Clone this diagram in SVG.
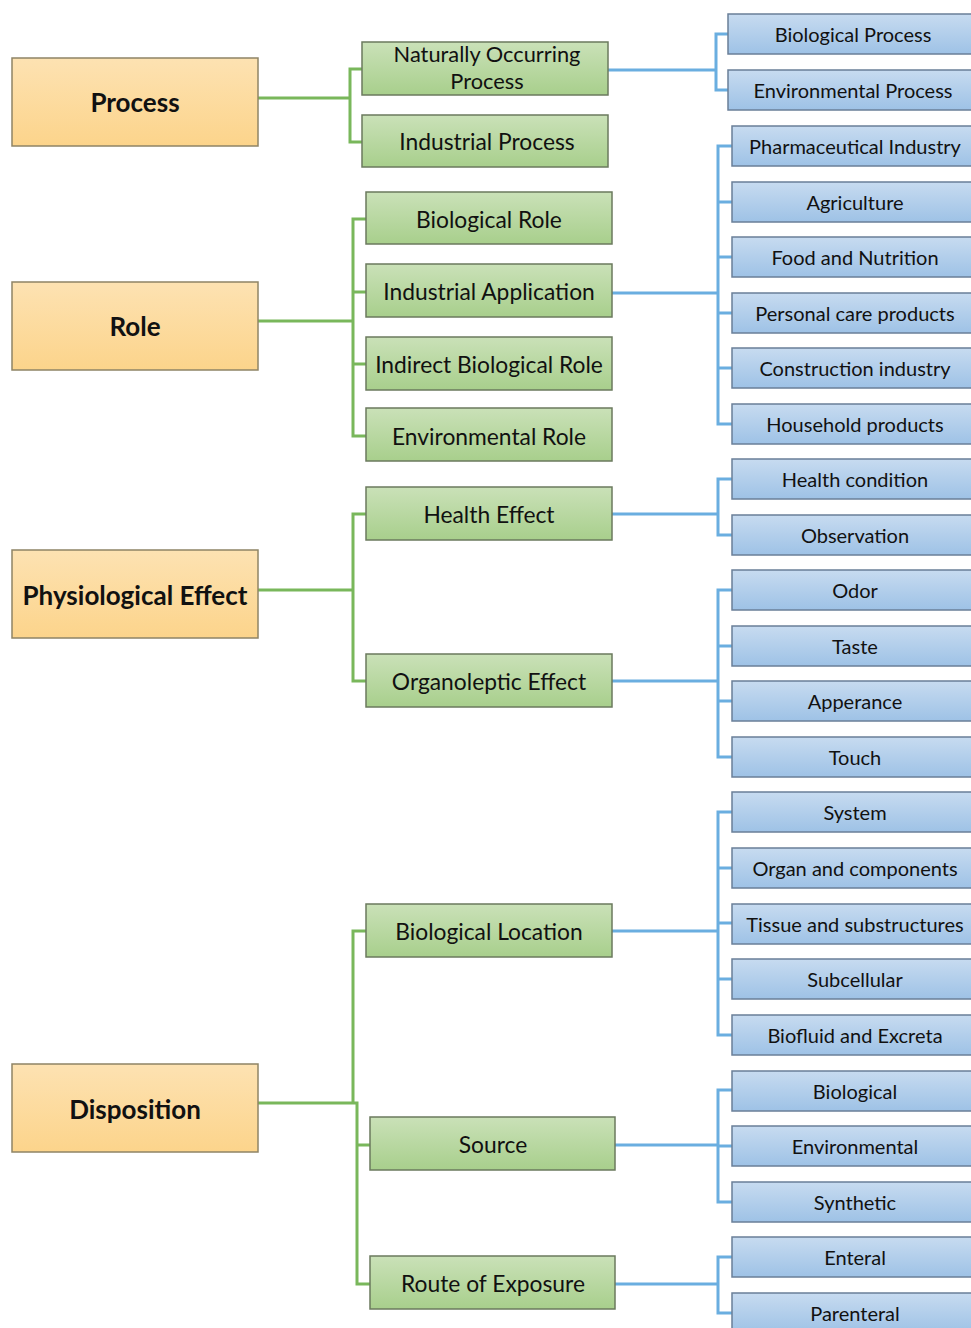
<svg xmlns="http://www.w3.org/2000/svg" width="971" height="1328" viewBox="0 0 971 1328">
<defs>
<linearGradient id="gO" x1="0" y1="0" x2="0" y2="1"><stop offset="0" stop-color="#fde2b2"/><stop offset="1" stop-color="#fcd48b"/></linearGradient>
<linearGradient id="gG" x1="0" y1="0" x2="0" y2="1"><stop offset="0" stop-color="#cae1b8"/><stop offset="1" stop-color="#a8cf8c"/></linearGradient>
<linearGradient id="gB" x1="0" y1="0" x2="0" y2="1"><stop offset="0" stop-color="#c7dbf0"/><stop offset="1" stop-color="#9ec2e6"/></linearGradient>
<style>
.o{fill:url(#gO);stroke:#8f8466;stroke-width:1.5}
.g{fill:url(#gG);stroke:#6b7a5e;stroke-width:1.5}
.b{fill:url(#gB);stroke:#6a7f98;stroke-width:1.5}
text{font-family:Lato,"Liberation Sans",sans-serif;fill:#111;text-anchor:middle}
.to{font-weight:bold;font-size:26px}
.tg{font-size:22.8px}
.tg2{font-size:21.8px}
.tb{font-size:20px}
.cg{fill:none;stroke:#79b75b;stroke-width:3}
.cb{fill:none;stroke:#6aaee0;stroke-width:3}
</style>
</defs>
<g id="connectors">
<path class="cg" d="M258,98H350M362,69H350V142H362"/>
<path class="cg" d="M258,321H353M366,219H353V436H366M353,292H366M353,364H366"/>
<path class="cg" d="M258,590H353M366,514H353V681H366"/>
<path class="cg" d="M366,931H353V1103M258,1103H357V1284H370M357,1145H370"/>
<path class="cb" d="M608,70H716M728,34H716V90H728"/>
<path class="cb" d="M612,293H718M732,146H718V424H732M718,202H732M718,257H732M718,313H732M718,368H732"/>
<path class="cb" d="M612,514H718M732,479H718V535H732"/>
<path class="cb" d="M612,681H718M732,590H718V757H732M718,646H732M718,701H732"/>
<path class="cb" d="M612,931H718M732,812H718V1035H732M718,868H732M718,923H732M718,979H732"/>
<path class="cb" d="M615,1145H718M732,1090H718V1202H732M718,1146H732"/>
<path class="cb" d="M615,1284H718M732,1257H718V1313H732"/>
</g>
<g id="n-process"><rect class="o" x="12" y="58" width="246" height="88"/><text class="to" x="135" y="112">Process</text></g>
<g id="n-role"><rect class="o" x="12" y="282" width="246" height="88"/><text class="to" x="135" y="336">Role</text></g>
<g id="n-physio"><rect class="o" x="12" y="550" width="246" height="88"/><text class="to" x="135" y="605">Physiological Effect</text></g>
<g id="n-disp"><rect class="o" x="12" y="1064" width="246" height="88"/><text class="to" x="135" y="1119">Disposition</text></g>

<g id="n-nop"><rect class="g" x="362" y="42" width="246" height="53"/><text class="tg2" x="487" y="62"><tspan x="487" y="62">Naturally Occurring</tspan><tspan x="487" y="88.5">Process</tspan></text></g>
<g id="n-ip"><rect class="g" x="362" y="115" width="246" height="52"/><text class="tg" x="487" y="150">Industrial Process</text></g>
<g id="n-biorole"><rect class="g" x="366" y="192" width="246" height="52"/><text class="tg" x="489" y="228">Biological Role</text></g>
<g id="n-indapp"><rect class="g" x="366" y="264" width="246" height="53"/><text class="tg" x="489" y="300">Industrial Application</text></g>
<g id="n-indbio"><rect class="g" x="366" y="337" width="246" height="53"/><text class="tg" x="489" y="373">Indirect Biological Role</text></g>
<g id="n-envrole"><rect class="g" x="366" y="408" width="246" height="53"/><text class="tg" x="489" y="445">Environmental Role</text></g>
<g id="n-health"><rect class="g" x="366" y="487" width="246" height="53"/><text class="tg" x="489" y="523">Health Effect</text></g>
<g id="n-organo"><rect class="g" x="366" y="654" width="246" height="53"/><text class="tg" x="489" y="690">Organoleptic Effect</text></g>
<g id="n-bioloc"><rect class="g" x="366" y="904" width="246" height="53"/><text class="tg" x="489" y="940">Biological Location</text></g>
<g id="n-source"><rect class="g" x="370" y="1117" width="245" height="53"/><text class="tg" x="493" y="1153">Source</text></g>
<g id="n-route"><rect class="g" x="370" y="1256" width="245" height="53"/><text class="tg" x="493" y="1292">Route of Exposure</text></g>

<g id="n-bp"><rect class="b" x="728" y="14" width="250" height="40"/><text class="tb" x="853" y="42">Biological Process</text></g>
<g id="n-ep"><rect class="b" x="728" y="70" width="250" height="40"/><text class="tb" x="853" y="98">Environmental Process</text></g>
<g id="n-pharma"><rect class="b" x="732" y="126" width="246" height="40"/><text class="tb" x="855" y="154">Pharmaceutical Industry</text></g>
<g id="n-agri"><rect class="b" x="732" y="182" width="246" height="40"/><text class="tb" x="855" y="210">Agriculture</text></g>
<g id="n-food"><rect class="b" x="732" y="237" width="246" height="40"/><text class="tb" x="855" y="265">Food and Nutrition</text></g>
<g id="n-personal"><rect class="b" x="732" y="293" width="246" height="40"/><text class="tb" x="855" y="321">Personal care products</text></g>
<g id="n-constr"><rect class="b" x="732" y="348" width="246" height="40"/><text class="tb" x="855" y="376">Construction industry</text></g>
<g id="n-house"><rect class="b" x="732" y="404" width="246" height="40"/><text class="tb" x="855" y="432">Household products</text></g>
<g id="n-hc"><rect class="b" x="732" y="459" width="246" height="40"/><text class="tb" x="855" y="487">Health condition</text></g>
<g id="n-obs"><rect class="b" x="732" y="515" width="246" height="40"/><text class="tb" x="855" y="543">Observation</text></g>
<g id="n-odor"><rect class="b" x="732" y="570" width="246" height="40"/><text class="tb" x="855" y="598">Odor</text></g>
<g id="n-taste"><rect class="b" x="732" y="626" width="246" height="40"/><text class="tb" x="855" y="654">Taste</text></g>
<g id="n-appear"><rect class="b" x="732" y="681" width="246" height="40"/><text class="tb" x="855" y="709">Apperance</text></g>
<g id="n-touch"><rect class="b" x="732" y="737" width="246" height="40"/><text class="tb" x="855" y="765">Touch</text></g>
<g id="n-system"><rect class="b" x="732" y="792" width="246" height="40"/><text class="tb" x="855" y="820">System</text></g>
<g id="n-organ"><rect class="b" x="732" y="848" width="246" height="40"/><text class="tb" x="855" y="876">Organ and components</text></g>
<g id="n-tissue"><rect class="b" x="732" y="904" width="246" height="40"/><text class="tb" x="855" y="932">Tissue and substructures</text></g>
<g id="n-subcell"><rect class="b" x="732" y="959" width="246" height="40"/><text class="tb" x="855" y="987">Subcellular</text></g>
<g id="n-biofluid"><rect class="b" x="732" y="1015" width="246" height="40"/><text class="tb" x="855" y="1043">Biofluid and Excreta</text></g>
<g id="n-sbio"><rect class="b" x="732" y="1071" width="246" height="40"/><text class="tb" x="855" y="1099">Biological</text></g>
<g id="n-senv"><rect class="b" x="732" y="1126" width="246" height="40"/><text class="tb" x="855" y="1154">Environmental</text></g>
<g id="n-ssyn"><rect class="b" x="732" y="1182" width="246" height="40"/><text class="tb" x="855" y="1210">Synthetic</text></g>
<g id="n-enteral"><rect class="b" x="732" y="1237" width="246" height="40"/><text class="tb" x="855" y="1265">Enteral</text></g>
<g id="n-parenteral"><rect class="b" x="732" y="1293" width="246" height="40"/><text class="tb" x="855" y="1321">Parenteral</text></g>
</svg>
